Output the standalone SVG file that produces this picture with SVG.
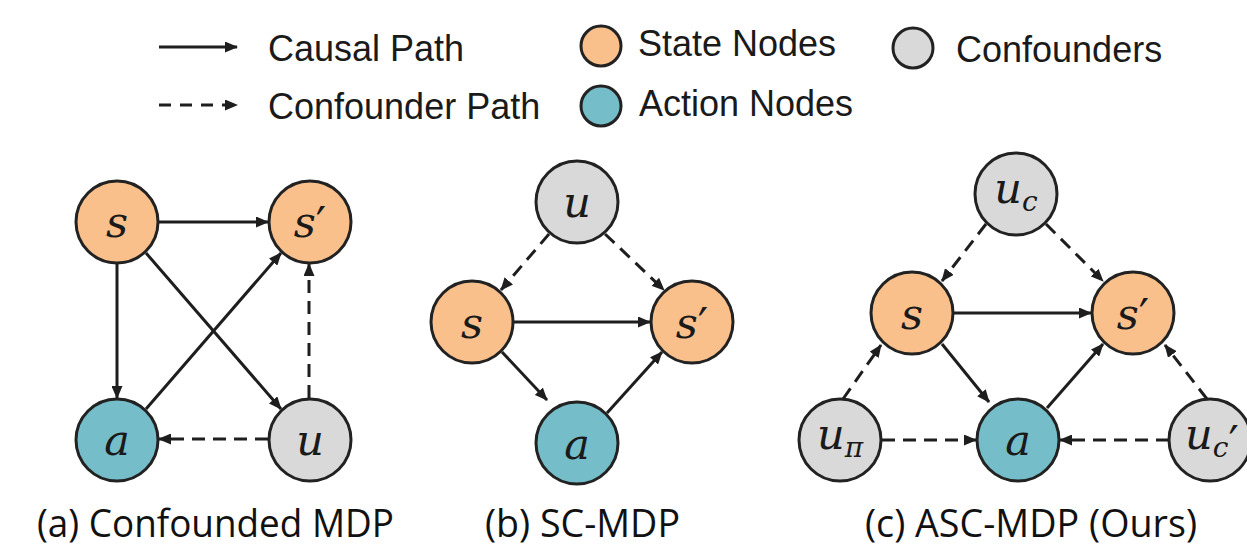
<svg xmlns="http://www.w3.org/2000/svg" width="1247" height="556" viewBox="0 0 1247 556">
  <style>
    .state { fill: #F9C08C; stroke: #222; stroke-width: 3; }
    .action { fill: #74BDC9; stroke: #222; stroke-width: 3; }
    .conf { fill: #D9D9D9; stroke: #222; stroke-width: 3; }
    .edge { stroke: #1e1e1e; stroke-width: 3; fill: none; marker-end: url(#ah); }
    .dash { stroke-dasharray: 13 8; }
    .leg { font-family: "Liberation Sans", Arial, sans-serif; font-size: 36px; fill: #1a1a1a; }
    .cap { font-family: "Open Sans", "Noto Sans", sans-serif; font-size: 38px; fill: #111; }
    .var { font-family: "DejaVu Serif", "Liberation Serif", serif; font-style: italic; font-size: 43px; fill: #1a1a1a; text-anchor: middle; }
    .sub { font-size: 28px; }
    .pr { font-family: "DejaVu Sans", sans-serif; font-style: normal; font-size: 46px; }
  </style>
  <defs>
    <marker id="ah" markerWidth="13" markerHeight="11" refX="12" refY="5.5" orient="auto" markerUnits="userSpaceOnUse">
      <path d="M0,0 L13,5.5 L0,11 z" fill="#1e1e1e"/>
    </marker>
  </defs>
  <rect width="1247" height="556" fill="#ffffff"/>

  <!-- Legend -->
  <g id="legend">
    <line class="edge" x1="159" y1="47" x2="237" y2="47"/>
    <text class="leg" x="268" y="61">Causal Path</text>
    <line class="edge" x1="159" y1="105" x2="237" y2="105" style="stroke-dasharray: 12 9"/>
    <text class="leg" x="268" y="119">Confounder Path</text>
    <circle class="state" cx="601" cy="46" r="20"/>
    <text class="leg" x="638" y="56">State Nodes</text>
    <circle class="action" cx="601" cy="106" r="20"/>
    <text class="leg" x="639" y="116">Action Nodes</text>
    <circle class="conf" cx="913" cy="48" r="20"/>
    <text class="leg" x="956" y="62">Confounders</text>
  </g>

  <!-- Connectors -->
  <g id="connectors">
    <!-- (a) -->
    <line class="edge" x1="159" y1="222" x2="268" y2="222"/>
    <line class="edge" x1="117" y1="264" x2="117" y2="398"/>
    <line class="edge" x1="146" y1="253" x2="281" y2="409"/>
    <line class="edge" x1="146" y1="409" x2="281" y2="253"/>
    <line class="edge dash" x1="309" y1="398" x2="309" y2="264"/>
    <line class="edge dash" x1="268" y1="439" x2="159" y2="439"/>
    <!-- (b) -->
    <line class="edge dash" x1="549" y1="234" x2="501" y2="290"/>
    <line class="edge dash" x1="605" y1="234" x2="664" y2="290"/>
    <line class="edge" x1="514" y1="322" x2="650" y2="322"/>
    <line class="edge" x1="502" y1="352" x2="547" y2="400"/>
    <line class="edge" x1="607" y1="413" x2="662" y2="352"/>
    <!-- (c) -->
    <line class="edge dash" x1="986" y1="224" x2="942" y2="281"/>
    <line class="edge dash" x1="1046" y1="224" x2="1103" y2="281"/>
    <line class="edge" x1="954" y1="313" x2="1091" y2="313"/>
    <line class="edge" x1="942" y1="344" x2="989" y2="402"/>
    <line class="edge" x1="1047" y1="408" x2="1103" y2="344"/>
    <line class="edge dash" x1="843" y1="399" x2="881" y2="345"/>
    <line class="edge dash" x1="882" y1="440" x2="976" y2="440"/>
    <line class="edge dash" x1="1207" y1="399" x2="1165" y2="345"/>
    <line class="edge dash" x1="1169" y1="440" x2="1060" y2="440"/>
  </g>

  <!-- (a) Confounded MDP nodes -->
  <g id="a-s"><circle class="state" cx="117" cy="222" r="41"/><text class="var" x="117" y="237">s</text></g>
  <g id="a-sp"><circle class="state" cx="310" cy="222" r="41"/><text class="var" x="310" y="237">s<tspan class="pr" dy="3">′</tspan></text></g>
  <g id="a-a"><circle class="action" cx="117" cy="440" r="41"/><text class="var" x="117" y="455">a</text></g>
  <g id="a-u"><circle class="conf" cx="310" cy="440" r="41"/><text class="var" x="310" y="455">u</text></g>

  <!-- (b) SC-MDP nodes -->
  <g id="b-u"><circle class="conf" cx="577" cy="202" r="41"/><text class="var" x="577" y="217">u</text></g>
  <g id="b-s"><circle class="state" cx="472" cy="322" r="41"/><text class="var" x="472" y="338">s</text></g>
  <g id="b-sp"><circle class="state" cx="692" cy="322" r="41"/><text class="var" x="692" y="338">s<tspan class="pr" dy="3">′</tspan></text></g>
  <g id="b-a"><circle class="action" cx="577" cy="443" r="41"/><text class="var" x="577" y="459">a</text></g>

  <!-- (c) ASC-MDP nodes -->
  <g id="c-uc"><circle class="conf" cx="1016" cy="194" r="41"/><text class="var" x="1016" y="203">u<tspan class="sub" dy="8">c</tspan></text></g>
  <g id="c-s"><circle class="state" cx="912" cy="313" r="41"/><text class="var" x="912" y="329">s</text></g>
  <g id="c-sp"><circle class="state" cx="1133" cy="313" r="41"/><text class="var" x="1133" y="329">s<tspan class="pr" dy="3">′</tspan></text></g>
  <g id="c-a"><circle class="action" cx="1018" cy="440" r="41"/><text class="var" x="1018" y="455">a</text></g>
  <g id="c-upi"><circle class="conf" cx="840" cy="440" r="41"/><text class="var" x="840" y="449">u<tspan class="sub" dy="8">π</tspan></text></g>
  <g id="c-ucp"><circle class="conf" cx="1210" cy="440" r="41"/><text class="var" x="1212" y="449">u<tspan class="sub" dy="8">c</tspan><tspan class="pr" dy="2">′</tspan></text></g>

  <!-- Captions -->
  <g id="captions">
    <text class="cap" x="37" y="537" textLength="357" lengthAdjust="spacingAndGlyphs">(a) Confounded MDP</text>
    <text class="cap" x="485" y="537" textLength="195" lengthAdjust="spacingAndGlyphs">(b) SC-MDP</text>
    <text class="cap" x="865" y="537" textLength="332" lengthAdjust="spacingAndGlyphs">(c) ASC-MDP (Ours)</text>
  </g>
</svg>
